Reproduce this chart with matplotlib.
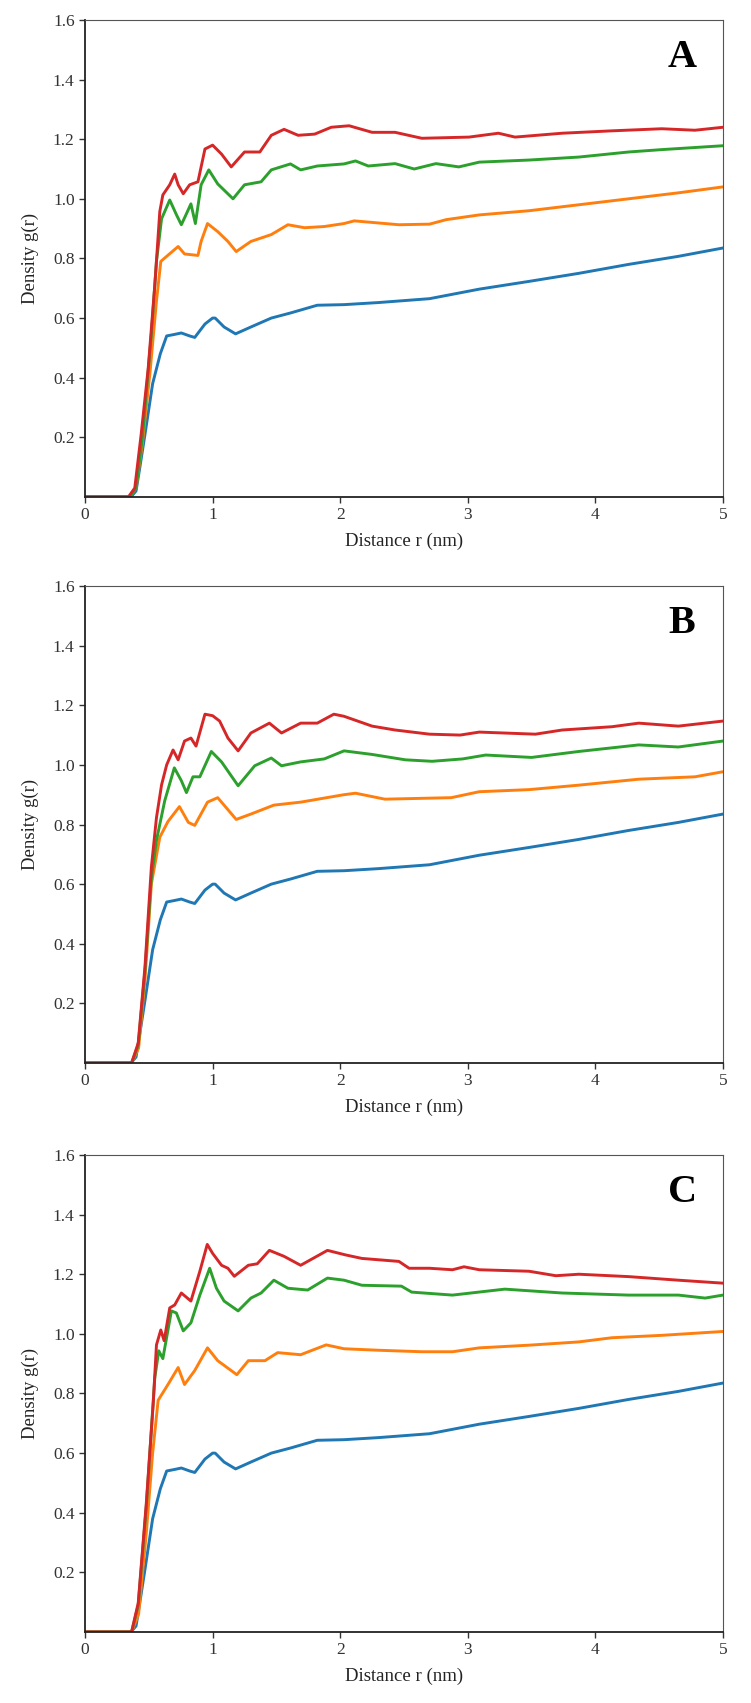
import matplotlib
matplotlib.use("Agg")
import matplotlib.pyplot as plt

plt.rcParams['font.family'] = ['Liberation Serif', 'DejaVu Serif']

# blue curve is the same in all three panels
blue_r = [0, 0.36, 0.40, 0.43, 0.47, 0.53, 0.59, 0.64, 0.70, 0.755, 0.82, 0.86, 0.94, 1.0, 1.02,
          1.09, 1.18, 1.30, 1.46, 1.61, 1.82, 2.03, 2.30, 2.70, 3.09, 3.48, 3.87, 4.26, 4.65, 5.0]
blue_g = [0, 0, 0.02, 0.10, 0.21, 0.38, 0.48, 0.54, 0.545, 0.55, 0.54, 0.535, 0.58, 0.60, 0.60,
          0.57, 0.547, 0.57, 0.60, 0.617, 0.643, 0.645, 0.652, 0.665, 0.697, 0.723, 0.75, 0.78, 0.807, 0.835]

# panel A
a_orange_r = [0, 0.35, 0.40, 0.45, 0.51, 0.56, 0.594, 0.64, 0.73, 0.78, 0.885, 0.91, 0.96, 1.04, 1.12, 1.185,
              1.30, 1.46, 1.59, 1.72, 1.875, 2.03, 2.11, 2.46, 2.70, 2.83, 3.09, 3.48, 3.87, 4.26, 4.65, 5.0]
a_orange_g = [0, 0, 0.03, 0.18, 0.42, 0.657, 0.79, 0.807, 0.84, 0.815, 0.81, 0.857, 0.917, 0.89, 0.857, 0.823,
              0.857, 0.88, 0.913, 0.903, 0.907, 0.917, 0.926, 0.913, 0.915, 0.93, 0.946, 0.96, 0.98, 1.0, 1.02, 1.04]
a_green_r = [0, 0.35, 0.40, 0.45, 0.52, 0.56, 0.60, 0.664, 0.716, 0.755, 0.795, 0.83, 0.865, 0.91, 0.97, 1.04,
             1.16, 1.25, 1.38, 1.46, 1.61, 1.69, 1.82, 2.03, 2.12, 2.22, 2.43, 2.58, 2.75, 2.93, 3.09, 3.48,
             3.87, 4.26, 4.52, 5.0]
a_green_g = [0, 0, 0.03, 0.20, 0.547, 0.79, 0.933, 0.996, 0.947, 0.913, 0.95, 0.983, 0.917, 1.047, 1.097, 1.05,
             1.0, 1.047, 1.057, 1.097, 1.117, 1.097, 1.11, 1.117, 1.127, 1.11, 1.118, 1.10, 1.118, 1.107, 1.123, 1.13,
             1.14, 1.157, 1.165, 1.178]
a_red_r = [0, 0.34, 0.39, 0.44, 0.495, 0.547, 0.586, 0.61, 0.664, 0.703, 0.73, 0.77, 0.82, 0.885, 0.94, 1.0,
           1.07, 1.146, 1.25, 1.37, 1.46, 1.56, 1.67, 1.80, 1.93, 2.07, 2.25, 2.43, 2.64, 3.01, 3.24, 3.37,
           3.74, 4.13, 4.52, 4.78, 5.0]
a_red_g = [0, 0, 0.03, 0.21, 0.43, 0.71, 0.957, 1.013, 1.047, 1.083, 1.047, 1.017, 1.047, 1.057, 1.167, 1.18,
           1.15, 1.107, 1.157, 1.157, 1.213, 1.233, 1.213, 1.217, 1.24, 1.245, 1.223, 1.223, 1.203, 1.207, 1.22, 1.207,
           1.22, 1.228, 1.235, 1.23, 1.24]

# panel B
b_orange_r = [0, 0.365, 0.42, 0.47, 0.52, 0.586, 0.65, 0.74, 0.81, 0.86, 0.96, 1.04, 1.185, 1.30, 1.48, 1.69,
              2.03, 2.12, 2.35, 2.87, 3.09, 3.48, 3.87, 4.34, 4.78, 5.0]
b_orange_g = [0, 0, 0.05, 0.28, 0.60, 0.757, 0.81, 0.86, 0.807, 0.797, 0.875, 0.89, 0.817, 0.835, 0.865, 0.875,
              0.90, 0.905, 0.885, 0.89, 0.91, 0.917, 0.932, 0.952, 0.96, 0.977]
b_green_r = [0, 0.365, 0.417, 0.47, 0.52, 0.56, 0.625, 0.70, 0.755, 0.795, 0.846, 0.90, 0.99, 1.07, 1.20, 1.33,
             1.46, 1.54, 1.69, 1.875, 2.03, 2.25, 2.51, 2.72, 2.96, 3.14, 3.50, 3.87, 4.34, 4.65, 5.0]
b_green_g = [0, 0, 0.06, 0.31, 0.62, 0.747, 0.88, 0.99, 0.947, 0.907, 0.96, 0.96, 1.045, 1.01, 0.93, 0.997,
             1.023, 0.997, 1.01, 1.02, 1.047, 1.035, 1.017, 1.012, 1.02, 1.033, 1.025, 1.045, 1.067, 1.06, 1.08]
b_red_r = [0, 0.365, 0.417, 0.47, 0.52, 0.56, 0.60, 0.64, 0.69, 0.73, 0.78, 0.83, 0.87, 0.94, 1.0, 1.055,
           1.12, 1.20, 1.30, 1.445, 1.54, 1.69, 1.82, 1.95, 2.03, 2.25, 2.43, 2.70, 2.94, 3.09, 3.53, 3.74,
           4.13, 4.34, 4.65, 5.0]
b_red_g = [0, 0, 0.067, 0.323, 0.657, 0.823, 0.933, 1.0, 1.05, 1.017, 1.08, 1.09, 1.063, 1.17, 1.165, 1.147,
           1.09, 1.047, 1.107, 1.14, 1.107, 1.14, 1.14, 1.17, 1.163, 1.13, 1.117, 1.103, 1.10, 1.11, 1.103, 1.117,
           1.128, 1.14, 1.13, 1.147]

# panel C
c_orange_r = [0, 0.365, 0.42, 0.48, 0.53, 0.573, 0.65, 0.73, 0.78, 0.86, 0.96, 1.04, 1.19, 1.28, 1.41, 1.51,
              1.69, 1.89, 2.03, 2.30, 2.64, 2.88, 3.09, 3.48, 3.87, 4.13, 4.52, 5.0]
c_orange_g = [0, 0, 0.06, 0.33, 0.60, 0.777, 0.83, 0.887, 0.83, 0.877, 0.953, 0.91, 0.863, 0.91, 0.91, 0.937,
              0.93, 0.963, 0.95, 0.945, 0.94, 0.94, 0.953, 0.962, 0.973, 0.987, 0.995, 1.008]
c_green_r = [0, 0.365, 0.417, 0.48, 0.547, 0.578, 0.61, 0.677, 0.716, 0.77, 0.83, 0.90, 0.977, 1.03, 1.09, 1.20,
             1.30, 1.38, 1.48, 1.59, 1.745, 1.90, 2.03, 2.17, 2.48, 2.56, 2.88, 3.29, 3.74, 4.26, 4.65, 4.86, 5.0]
c_green_g = [0, 0, 0.09, 0.42, 0.853, 0.943, 0.917, 1.077, 1.07, 1.01, 1.037, 1.13, 1.22, 1.153, 1.11, 1.077,
             1.12, 1.137, 1.18, 1.153, 1.147, 1.187, 1.18, 1.163, 1.16, 1.14, 1.13, 1.15, 1.137, 1.13, 1.13, 1.12, 1.13]
c_red_r = [0, 0.365, 0.417, 0.48, 0.534, 0.56, 0.594, 0.62, 0.664, 0.703, 0.755, 0.83, 0.90, 0.958, 1.0, 1.07,
           1.12, 1.17, 1.28, 1.35, 1.445, 1.56, 1.69, 1.90, 2.04, 2.17, 2.46, 2.54, 2.70, 2.88, 2.97, 3.09,
           3.48, 3.69, 3.87, 4.26, 4.65, 5.0]
c_red_g = [0, 0, 0.097, 0.43, 0.763, 0.963, 1.013, 0.977, 1.087, 1.097, 1.137, 1.11, 1.21, 1.30, 1.27, 1.23,
           1.22, 1.193, 1.23, 1.235, 1.28, 1.26, 1.23, 1.28, 1.265, 1.253, 1.243, 1.22, 1.22, 1.215, 1.225, 1.215,
           1.21, 1.195, 1.2, 1.192, 1.18, 1.17]

panel_labels = ['A', 'B', 'C']
panel_curves = [
    [(blue_r, blue_g), (a_orange_r, a_orange_g), (a_green_r, a_green_g), (a_red_r, a_red_g)],
    [(blue_r, blue_g), (b_orange_r, b_orange_g), (b_green_r, b_green_g), (b_red_r, b_red_g)],
    [(blue_r, blue_g), (c_orange_r, c_orange_g), (c_green_r, c_green_g), (c_red_r, c_red_g)],
]
colors = ['tab:blue', 'tab:orange', 'tab:green', 'tab:red']
y_ticks = [0.2, 0.4, 0.6, 0.8, 1.0, 1.2, 1.4, 1.6]
x_ticks = [0, 1, 2, 3, 4, 5]

fig = plt.figure(figsize=(7.51, 17.03), dpi=100)
bottoms = [0.7082, 0.3758, 0.0417]

for label, curves, bot in zip(panel_labels, panel_curves, bottoms):
    ax = fig.add_axes([0.1132, bot, 0.8495, 0.2801])
    for (r, g), c in zip(curves, colors):
        ax.plot(r, g, color=c, linewidth=2.1)
    ax.set_xlim(0, 5)
    ax.set_ylim(0, 1.6)
    ax.set_xticks(x_ticks)
    ax.set_yticks(y_ticks)
    ax.set_yticklabels(['%.1f' % t for t in y_ticks])
    ax.tick_params(labelsize=12.5, length=4, width=1, colors='#333333')
    ax.set_xlabel('Distance r (nm)', fontsize=13.5, labelpad=7, color='#222222')
    ax.set_ylabel('Density g(r)', fontsize=13.5, labelpad=10, color='#222222')
    ax.spines['left'].set_linewidth(1.3)
    ax.spines['bottom'].set_linewidth(1.3)
    ax.spines['left'].set_color('#222222')
    ax.spines['bottom'].set_color('#222222')
    ax.spines['top'].set_color('#555555')
    ax.spines['right'].set_color('#555555')
    ax.text(0.936, 0.922, label, transform=ax.transAxes, fontsize=29, fontweight='bold',
            ha='center', va='center', color='black')

fig.savefig('out.png', dpi=100)
